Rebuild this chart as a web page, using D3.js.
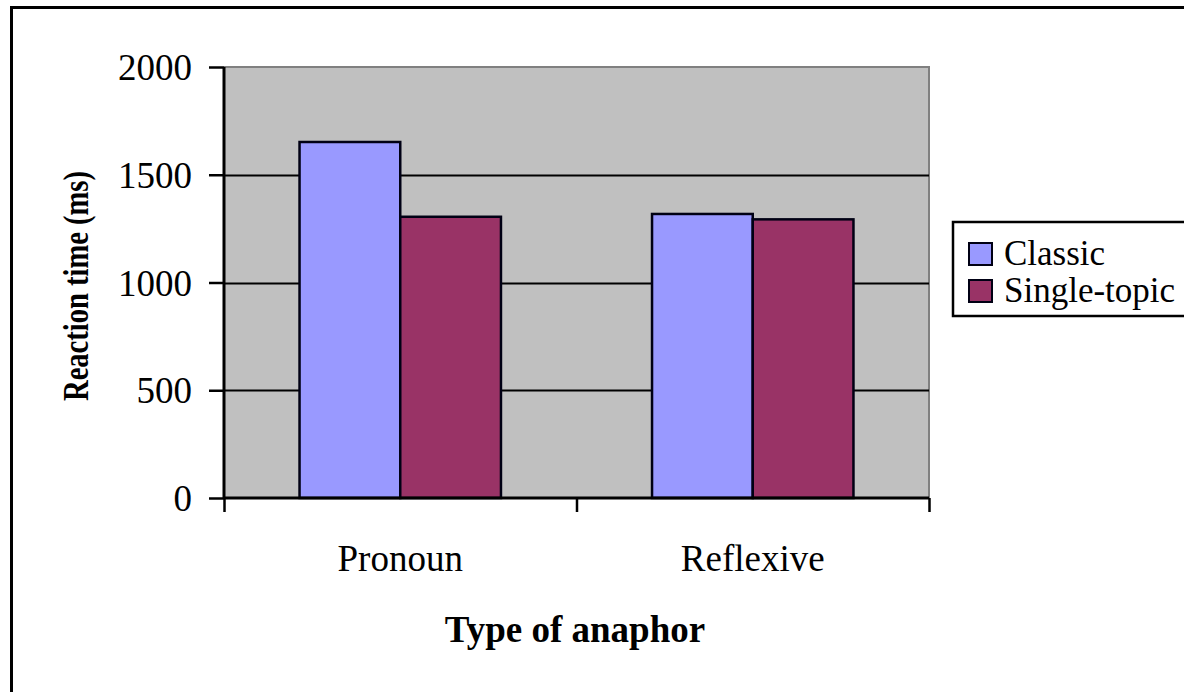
<!DOCTYPE html>
<html><head><meta charset="utf-8">
<script src="https://cdn.jsdelivr.net/npm/d3@7"></script>
<style>body{margin:0;background:#fff;} svg{display:block;} text{font-family:"Liberation Serif","Times New Roman",serif;}</style>
</head><body>
<svg id="c" width="1184" height="692"></svg>
<script>
const categories = ["Pronoun", "Reflexive"];
const seriesNames = ["Classic", "Single-topic"];
const classicValues = [1652, 1318];
const singleTopicValues = [1305, 1293];
const yTicks = [0, 500, 1000, 1500, 2000];
const colors = ["#9999FF", "#993366"];

const svg = d3.select("#c");
const W = 1184, H = 692;
const plot = {left: 224, right: 929, top: 67, bottom: 498};
const font = "Liberation Serif, Times New Roman, serif";

// outer frame
svg.append("rect").attr("x", 11.5).attr("y", 7.5).attr("width", W + 20).attr("height", H + 20)
  .attr("fill", "#fff").attr("stroke", "#000").attr("stroke-width", 3);

const x0 = d3.scaleBand().domain(categories).range([plot.left, plot.right]).paddingInner(0).paddingOuter(0);
const y = d3.scaleLinear().domain([0, 2000]).range([plot.bottom, plot.top]);

// plot background
svg.append("rect").attr("x", plot.left).attr("y", plot.top)
  .attr("width", plot.right - plot.left).attr("height", plot.bottom - plot.top)
  .attr("fill", "#C0C0C0");
svg.append("path").attr("d", `M${plot.left},${plot.top}H${plot.right}V${plot.bottom}`)
  .attr("fill", "none").attr("stroke", "#808080").attr("stroke-width", 2);

// gridlines
svg.append("g").selectAll("line").data(yTicks.filter(d => d > 0 && d < 2000)).join("line")
  .attr("x1", plot.left).attr("x2", plot.right)
  .attr("y1", d => Math.round(y(d)) + 0.5).attr("y2", d => Math.round(y(d)) + 0.5)
  .attr("stroke", "#000").attr("stroke-width", 2);

// bars
const data = categories.map((c, i) => ({cat: c, vals: [classicValues[i], singleTopicValues[i]]}));
const groupW = x0.bandwidth() / 3.5 * 2;
const x1 = d3.scaleBand().domain(seriesNames).range([0, groupW]);
const g = svg.append("g");
data.forEach(d => {
  const gx = x0(d.cat) + (x0.bandwidth() - groupW) / 2;
  g.selectAll(null).data(d.vals.map((v, k) => ({v, k}))).join("rect")
    .attr("x", e => gx + x1(seriesNames[e.k]))
    .attr("y", e => y(e.v))
    .attr("width", x1.bandwidth())
    .attr("height", e => y(0) - y(e.v))
    .attr("fill", e => colors[e.k])
    .attr("stroke", "#000014").attr("stroke-width", 2.5);
});

// y axis
const yAxis = d3.axisLeft(y).tickValues(yTicks).tickSize(15).tickPadding(17).tickFormat(d3.format("d"));
const ya = svg.append("g").attr("transform", `translate(${plot.left},0)`).call(yAxis);
ya.attr("font-family", font);
ya.select(".domain").attr("stroke-width", 3).attr("d", `M0,${plot.top}V${plot.bottom}`);
ya.selectAll(".tick line").attr("stroke-width", 2.5);
ya.selectAll("text").attr("font-family", font).attr("font-size", 37).attr("fill", "#000").attr("dy", "0.34em");

// x axis
const xAxis = d3.axisBottom(d3.scaleLinear().domain([0, 2]).range([plot.left, plot.right]))
  .tickValues([0, 1, 2]).tickSize(14).tickFormat("");
const xa = svg.append("g").attr("transform", `translate(0,${plot.bottom})`).call(xAxis);
xa.select(".domain").attr("stroke-width", 3).attr("d", `M${plot.left},0H${plot.right}`);
xa.selectAll(".tick line").attr("stroke-width", 2.5);

svg.append("g").selectAll("text").data(categories).join("text")
  .attr("x", d => x0(d) + x0.bandwidth() / 2).attr("y", 571)
  .attr("text-anchor", "middle").attr("font-family", font).attr("font-size", 37)
  .text(d => d);

// axis titles
svg.append("text").attr("x", 575).attr("y", 642).attr("text-anchor", "middle")
  .attr("font-family", font).attr("font-size", 37).attr("font-weight", "bold").text("Type of anaphor");
svg.append("text").attr("transform", "translate(88,286) rotate(-90)").attr("text-anchor", "middle")
  .attr("font-family", font).attr("font-size", 35).attr("font-weight", "bold")
  .attr("textLength", 230).attr("lengthAdjust", "spacingAndGlyphs").text("Reaction time (ms)");

// legend
const lg = svg.append("g");
lg.append("rect").attr("x", 953).attr("y", 222).attr("width", 260).attr("height", 94)
  .attr("fill", "#fff").attr("stroke", "#000").attr("stroke-width", 2.5);
seriesNames.forEach((s, i) => {
  const yy = 243 + i * 37;
  lg.append("rect").attr("x", 969).attr("y", yy).attr("width", 23).attr("height", 22)
    .attr("fill", colors[i]).attr("stroke", "#000014").attr("stroke-width", 2);
  lg.append("text").attr("x", 1004).attr("y", yy + 22).attr("font-family", font).attr("font-size", 35)
    .text(s);
});
</script>
</body></html>
